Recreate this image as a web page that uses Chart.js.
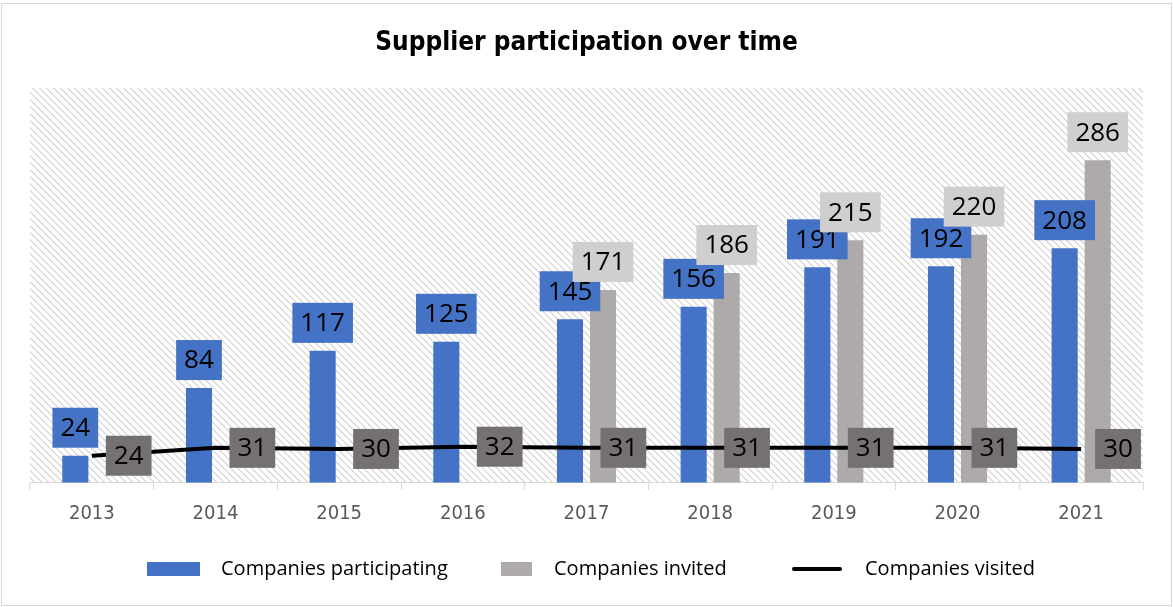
<!DOCTYPE html>
<html>
<head>
<meta charset="utf-8">
<title>Supplier participation over time</title>
<script src="https://cdn.jsdelivr.net/npm/chart.js@4.4.1/dist/chart.umd.min.js"></script>
<style>
  html, body { margin: 0; padding: 0; background: #fff; }
  #wrap { width: 1173px; height: 607px; }
</style>
</head>
<body>
<div id="wrap"><canvas id="supplierChart" width="1173" height="607"></canvas></div>
<script>
// yearly figures
const years = ['2013', '2014', '2015', '2016', '2017', '2018', '2019', '2020', '2021'];
const participating = [24, 84, 117, 125, 145, 156, 191, 192, 208];
const invited = [null, null, null, null, 171, 186, 215, 220, 286];
const visited = [24, 31, 30, 32, 31, 31, 31, 31, 30];

const BLUE = '#4472C4';
const GREY = '#AEAAAA';

// small diagonal hatch tile for the plot background
function hatchPattern(ctx) {
    const n = 7;
    const tile = document.createElement('canvas');
    tile.width = n;
    tile.height = n;
    const g = tile.getContext('2d');
    g.fillStyle = '#ffffff';
    g.fillRect(0, 0, n, n);
    g.fillStyle = '#dcdcdc';
    for (let x = 0; x < n; x++) {
        for (let y = 0; y < n; y++) {
            if ((((x - y) % n) + n) % n < 2) g.fillRect(x, y, 1, 1);
        }
    }
    return ctx.createPattern(tile, 'repeat');
}

// white page, thin frame, hatched plot area
const framePlugin = {
    id: 'frame',
    beforeDraw(chart) {
        const { ctx, chartArea: a, width, height } = chart;
        ctx.save();
        ctx.fillStyle = '#fff';
        ctx.fillRect(0, 0, width, height);
        ctx.strokeStyle = '#d9d9d9';
        ctx.lineWidth = 1;
        ctx.strokeRect(1.5, 3.5, 1170, 602);
        ctx.fillStyle = hatchPattern(ctx);
        ctx.fillRect(a.left, a.top, a.right - a.left, a.bottom - a.top);
        ctx.restore();
    }
};

// value boxes: above bars, to the right of line points
const valueBoxPlugin = {
    id: 'valueBoxes',
    afterDatasetsDraw(chart) {
        const ctx = chart.ctx;
        ctx.save();
        ctx.font = '26px "Open Sans"';
        ctx.textAlign = 'center';
        ctx.textBaseline = 'middle';
        chart.data.datasets.forEach((ds, i) => {
            const meta = chart.getDatasetMeta(i);
            meta.data.forEach((el, j) => {
                const v = ds.data[j];
                if (v === null || v === undefined) return;
                const text = String(v);
                const w = ctx.measureText(text).width + 16;
                const h = 40;
                let cx, cy;
                if (ds.type === 'line') {
                    cx = el.x + 14 + w / 2;
                    cy = el.y;
                } else {
                    cx = el.x;
                    cy = el.y - 8 - h / 2;
                }
                ctx.fillStyle = ds.boxColor;
                ctx.fillRect(cx - w / 2, cy - h / 2, w, h);
                ctx.fillStyle = '#000';
                ctx.fillText(text, cx, cy + 1);
            });
        });
        ctx.restore();
    }
};

// legend row under the axis
const legendRowPlugin = {
    id: 'legendRow',
    afterDraw(chart) {
        const ctx = chart.ctx;
        const y = 569;
        const swatches = [
            { x: 147, w: 53, tx: 221 },
            { x: 501, w: 31, tx: 554 },
            { x: 792, w: 50, tx: 865 }
        ];
        ctx.save();
        ctx.font = '20px "Open Sans"';
        ctx.textBaseline = 'middle';
        ctx.textAlign = 'left';
        chart.data.datasets.forEach((ds, i) => {
            const s = swatches[i];
            if (ds.type === 'line') {
                ctx.strokeStyle = ds.borderColor;
                ctx.lineWidth = 4;
                ctx.lineCap = 'round';
                ctx.beginPath();
                ctx.moveTo(s.x + 2, y);
                ctx.lineTo(s.x + s.w - 2, y);
                ctx.stroke();
            } else {
                ctx.fillStyle = ds.backgroundColor;
                ctx.fillRect(s.x, y - 7, s.w, 14);
            }
            ctx.fillStyle = '#000';
            ctx.fillText(ds.label, s.tx, y);
        });
        ctx.restore();
    }
};

new Chart(document.getElementById('supplierChart'), {
    type: 'bar',
    data: {
        labels: years,
        datasets: [
            {
                label: 'Companies participating',
                data: participating,
                backgroundColor: BLUE,
                boxColor: BLUE,
                order: 1,
                categoryPercentage: 0.534,
                barPercentage: 0.79
            },
            {
                label: 'Companies invited',
                data: invited,
                backgroundColor: GREY,
                boxColor: '#D0CECE',
                order: 1,
                categoryPercentage: 0.534,
                barPercentage: 0.79
            },
            {
                type: 'line',
                label: 'Companies visited',
                data: visited,
                borderColor: '#000',
                backgroundColor: '#000',
                boxColor: '#767171',
                borderWidth: 4,
                pointRadius: 0,
                tension: 0,
                order: 0
            }
        ]
    },
    options: {
        responsive: false,
        animation: false,
        layout: { padding: { top: 0, left: 30, right: 30, bottom: 69.2 } },
        plugins: {
            legend: { display: false },
            tooltip: { enabled: false },
            title: {
                display: true,
                text: 'Supplier participation over time',
                color: '#000',
                font: { family: "'DejaVu Sans Condensed', 'DejaVu Sans'", size: 26, weight: 'bold', lineHeight: 1.2 },
                padding: { top: 27.6, bottom: 29.2 }
            }
        },
        scales: {
            x: {
                grid: { drawOnChartArea: false, drawTicks: true, tickLength: 7, color: '#d9d9d9', offset: true },
                border: { display: true, color: '#d9d9d9', width: 1 },
                ticks: {
                    color: '#595959',
                    padding: 12,
                    font: { family: "'DejaVu Sans Condensed', 'DejaVu Sans'", size: 20, lineHeight: 1.2 }
                }
            },
            y: {
                display: false,
                min: 0,
                max: 350
            }
        }
    },
    plugins: [framePlugin, valueBoxPlugin, legendRowPlugin]
});
</script>
</body>
</html>
